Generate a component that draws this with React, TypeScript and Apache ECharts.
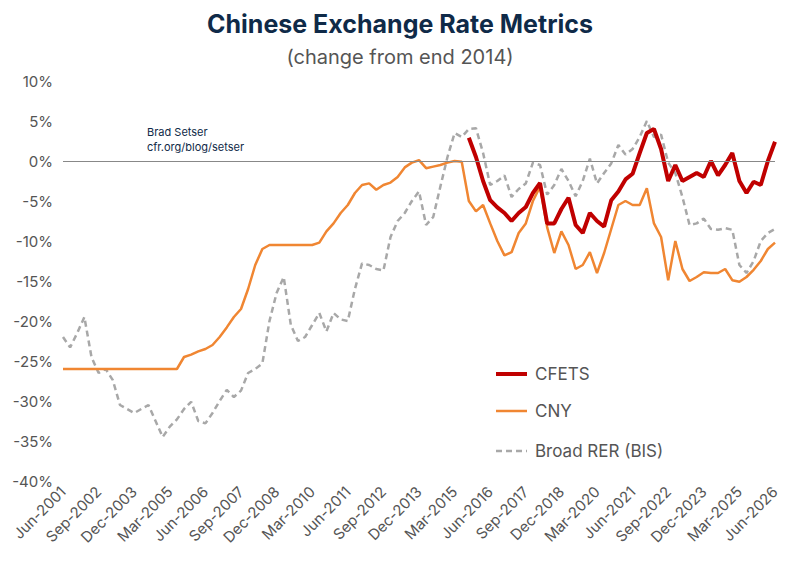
import { useEffect, useRef } from 'react';
import * as echarts from 'echarts';

// quarterly observations, Jun-2001 .. Jun-2026
const months = ['Mar', 'Jun', 'Sep', 'Dec'];
const categories: string[] = [];
for (let i = 0; i <= 100; i++) {
    const q = (1 + i) % 4;
    const year = 2001 + Math.floor((1 + i) / 4);
    categories.push(`${months[q]}-${year}`);
}

const cny = [
    -26, -26, -26, -26, -26, -26, -26, -26, -26, -26, -26, -26, -26, -26, -26, -26, -26,
    -24.5, -24.2, -23.8, -23.5, -23, -22, -20.8, -19.5, -18.5, -16, -13, -11, -10.5,
    -10.5, -10.5, -10.5, -10.5, -10.5, -10.5, -10.2, -8.8, -7.8, -6.5, -5.5, -4, -3, -2.8,
    -3.6, -3, -2.7, -2, -0.8, -0.2, 0.1, -0.9, -0.7, -0.5, -0.2, 0, -0.1,
    -5, -6.3, -5.5, -7.8, -10, -11.8, -11.4, -9, -7.8, -5, -3.2, -8.3, -11.5, -8.8, -10.5,
    -13.5, -13, -11.4, -14, -11.5, -8.5, -5.5, -5, -5.5, -5.5, -3.4, -7.8, -9.5, -14.9,
    -10, -13.5, -15, -14.5, -13.9, -14, -14, -13.5, -14.9, -15.1, -14.5, -13.6, -12.5, -11, -10.2,
];

const cfets: (number | null)[] = [
    ...Array(57).fill(null),
    2.9, 0.5, -2.5, -4.9, -5.8, -6.5, -7.5, -6.5, -5.75, -4, -2.75, -7.8, -7.8, -6, -4.6,
    -8, -9, -6.5, -7.5, -8.2, -4.9, -3.8, -2.3, -1.6, 1, 3.5, 4, 1.5, -2.5, -0.5, -2.5,
    -2, -1.5, -2, 0, -1.8, -0.5, 1, -2.5, -4, -2.6, -3, 0, 2.4,
];

const bis = [
    -22, -23.3, -21.5, -19.5, -24.5, -26.5, -26, -27.4, -30.5, -31, -31.5, -31, -30.5, -32.5,
    -34.5, -33.2, -32.3, -31, -30.1, -32.5, -32.8, -31.5, -30, -28.6, -29.5, -28.7, -26.5,
    -26, -25.3, -20, -16.5, -14.5, -20.5, -22.5, -22, -20.5, -19, -21.3, -19, -19.8, -20,
    -16, -12.8, -13, -13.5, -13.7, -9.5, -7.5, -6.5, -5, -3.8, -8, -7, -3.2, 0.5, 3.5, 3,
    4, 4.1, 1, -3, -2.5, -1.8, -4.5, -3.5, -2.8, -0.2, -0.5, -4.2, -3, -1, -2.5, -4.4, -2.5,
    0.3, -2.8, -1.5, -0.3, 2, 0.8, 1.5, 3, 5, 3, 3.3, -0.2, -1.5, -4.5, -8, -7.8, -7.2,
    -8.5, -8.6, -8.4, -8.6, -13, -14, -12.5, -10, -9, -8.5,
];

const FONT = 'Inter, "Noto Sans", sans-serif';
const NAVY = '#0f2a48';
const GREY = '#555';
const RED = '#c00000';
const ORANGE = '#f08632';
const DASH = '#a8a8a8';

const legendItems = [
    { name: 'CFETS', color: RED, width: 4, dash: false, y: 366 },
    { name: 'CNY', color: ORANGE, width: 2.5, dash: false, y: 403 },
    { name: 'Broad RER (BIS)', color: DASH, width: 2.5, dash: true, y: 443 },
];

const App = () => {
    const chartRef = useRef<HTMLDivElement>(null);

    useEffect(() => {
        if (!chartRef.current) return;
        const chart = echarts.init(chartRef.current, null, { renderer: 'svg' });
        chart.setOption({
            animation: false,
            title: [
                {
                    text: 'Chinese Exchange Rate Metrics',
                    left: 'center',
                    top: -2,
                    textStyle: { fontFamily: FONT, fontSize: 25, fontWeight: 'bold', color: NAVY },
                },
                {
                    text: '(change from end 2014)',
                    left: 'center',
                    top: 34,
                    textStyle: { fontFamily: FONT, fontSize: 20, fontWeight: 'normal', color: GREY },
                },
            ],
            grid: { left: 55, right: 17, top: 73, bottom: 92, outerBoundsMode: 'none', containLabel: false },
            xAxis: {
                type: 'category',
                data: categories,
                boundaryGap: false,
                axisLine: { show: false },
                axisTick: { show: false },
                axisLabel: {
                    interval: 4,
                    rotate: 45,
                    fontFamily: FONT,
                    fontSize: 15,
                    color: GREY,
                    margin: 8,
                },
            },
            yAxis: {
                type: 'value',
                min: -40,
                max: 10,
                interval: 5,
                splitLine: { show: false },
                axisLine: { show: false },
                axisTick: { show: false },
                axisLabel: {
                    formatter: (v: number) => `${v}%`,
                    fontFamily: FONT,
                    fontSize: 15,
                    color: GREY,
                    margin: 10,
                },
            },
            graphic: [
                {
                    type: 'text',
                    left: 139,
                    top: 116,
                    style: {
                        text: 'Brad Setser\ncfr.org/blog/setser',
                        fontFamily: FONT,
                        fontSize: 11,
                        lineHeight: 15,
                        fill: NAVY,
                    },
                },
                ...legendItems.flatMap(item => [
                    {
                        type: 'line',
                        shape: { x1: 488, y1: item.y, x2: 519, y2: item.y },
                        style: {
                            stroke: item.color,
                            lineWidth: item.width,
                            lineDash: item.dash ? [6, 4] : null,
                        },
                    },
                    {
                        type: 'text',
                        x: 527,
                        y: item.y,
                        style: {
                            text: item.name,
                            fontFamily: FONT,
                            fontSize: 17,
                            fill: GREY,
                            verticalAlign: 'middle',
                        },
                    },
                ]),
            ],
            series: [
                {
                    name: 'Broad RER (BIS)',
                    type: 'line',
                    data: bis,
                    showSymbol: false,
                    lineStyle: { color: DASH, width: 2.5, type: [6, 4] },
                    markLine: {
                        silent: true,
                        symbol: 'none',
                        label: { show: false },
                        lineStyle: { color: '#888', width: 1.2, type: 'solid' },
                        data: [{ yAxis: 0 }],
                    },
                },
                {
                    name: 'CNY',
                    type: 'line',
                    data: cny,
                    showSymbol: false,
                    lineStyle: { color: ORANGE, width: 2.5 },
                },
                {
                    name: 'CFETS',
                    type: 'line',
                    data: cfets,
                    showSymbol: false,
                    lineStyle: { color: RED, width: 4 },
                },
            ],
        });
        return () => {
            chart.dispose();
        };
    }, []);

    return <div ref={chartRef} style={{ width: '784px', height: '565px' }} />;
};

export default App;
